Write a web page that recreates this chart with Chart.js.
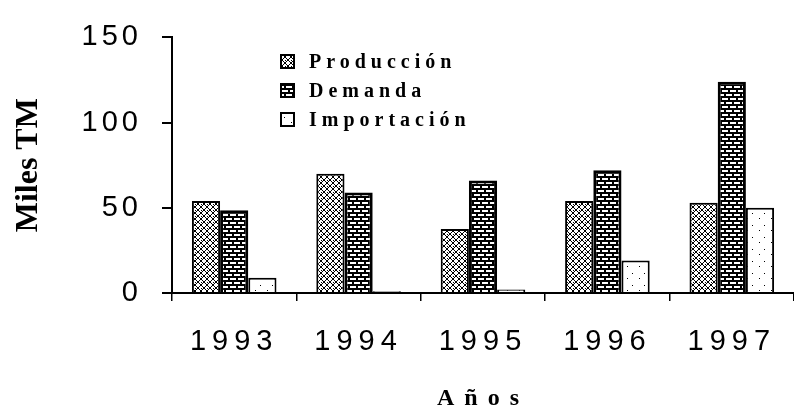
<!DOCTYPE html>
<html>
<head>
<meta charset="utf-8">
<script src="https://cdn.jsdelivr.net/npm/chart.js@4.4.0/dist/chart.umd.min.js"></script>
<style>
  html, body { margin: 0; padding: 0; background: #fff; }
  canvas { display: block; }
</style>
</head>
<body>
<canvas id="chart" width="794" height="411"></canvas>
<script>
const years = ["1993", "1994", "1995", "1996", "1997"];
const produccion = [54, 70, 37.5, 54, 53];
const demanda = [48.5, 59, 66, 72, 124];
const importacion = [9, 1, 2, 19, 50];
const yTicks = [0, 50, 100, 150];

// small black & white tiles, like the old printed hatchings
const makePattern = (w, h, draw) => {
  const c = document.createElement("canvas");
  c.width = w;
  c.height = h;
  const g = c.getContext("2d");
  g.fillStyle = "#fff";
  g.fillRect(0, 0, w, h);
  g.fillStyle = "#000";
  draw(g);
  return document.getElementById("chart").getContext("2d").createPattern(c, "repeat");
};

const crossPattern = makePattern(6, 6, (g) => {
  for (let i = 0; i < 6; i++) {
    g.fillRect(i, i, 1, 1);
    g.fillRect(5 - i, i, 1, 1);
  }
  g.fillRect(3, 0, 1, 1);
});

const brickPattern = makePattern(8, 8, (g) => {
  g.fillRect(0, 0, 8, 2);
  g.fillRect(0, 2, 2, 2);
  g.fillRect(0, 4, 8, 2);
  g.fillRect(4, 6, 2, 2);
});

const dotPattern = makePattern(12, 12, (g) => {
  g.fillRect(3, 2, 1, 1);
  g.fillRect(8, 9, 1, 1);
});

// canvas letterSpacing for the wide, spaced lettering of the scan
const spaced = (obj, name, sp) => {
  const orig = obj[name];
  obj[name] = function (...args) {
    const ctx = this.ctx;
    const prev = ctx.letterSpacing;
    ctx.letterSpacing = sp;
    orig.apply(this, args);
    ctx.letterSpacing = prev;
  };
};

const letterSpacing = {
  id: "letterSpacing",
  beforeDraw(chart) {
    const { x, y } = chart.scales;
    if (!x._spaced) {
      spaced(x, "drawLabels", "6px");
      spaced(x, "drawTitle", "10px");
      x._spaced = true;
    }
    if (!y._spaced) {
      spaced(y, "drawLabels", "4px");
      spaced(y, "drawTitle", "0px");
      y._spaced = true;
    }
  },
};

const boxLegend = {
  id: "boxLegend",
  afterDraw(chart) {
    const ctx = chart.ctx;
    ctx.save();
    ctx.font = "bold 20px 'Liberation Serif'";
    ctx.letterSpacing = "5px";
    ctx.textBaseline = "alphabetic";
    chart.data.datasets.forEach((ds, i) => {
      const base = 68 + i * 29;
      ctx.fillStyle = ds.backgroundColor;
      ctx.fillRect(281, base - 13, 13, 13);
      ctx.strokeStyle = "#000";
      ctx.lineWidth = 2;
      ctx.strokeRect(281, base - 13, 13, 13);
      ctx.fillStyle = "#000";
      ctx.fillText(ds.label, 309, base);
    });
    ctx.restore();
  },
};

new Chart(document.getElementById("chart"), {
  type: "bar",
  data: {
    labels: years,
    datasets: [
      { label: "Producción", data: produccion, backgroundColor: crossPattern, borderColor: "#000", borderWidth: 2 },
      { label: "Demanda", data: demanda, backgroundColor: brickPattern, borderColor: "#000", borderWidth: 3 },
      { label: "Importación", data: importacion, backgroundColor: dotPattern, borderColor: "#000", borderWidth: 2 },
    ],
  },
  options: {
    responsive: false,
    animation: false,
    layout: { padding: { top: 30, right: 0, left: 0, bottom: 0 } },
    datasets: {
      bar: { categoryPercentage: 0.68, barPercentage: 1.0 },
    },
    scales: {
      x: {
        afterFit: (scale) => { scale.height = 118; },
        grid: { offset: true, drawOnChartArea: false, tickLength: 8, color: "#000", lineWidth: 1.5 },
        border: { color: "#000", width: 2 },
        ticks: {
          padding: 24,
          color: "#000",
          font: { family: "'Liberation Sans'", size: 29 },
        },
        title: {
          display: true,
          text: "Años",
          color: "#000",
          font: { family: "'Liberation Serif'", size: 24, weight: "bold", lineHeight: 1 },
          padding: { top: 0, bottom: 0 },
        },
      },
      y: {
        min: 0,
        max: 150,
        afterFit: (scale) => { scale.width = 172; },
        afterBuildTicks: (scale) => { scale.ticks = yTicks.map((v) => ({ value: v })); },
        grid: { drawOnChartArea: false, tickLength: 10, color: "#000", lineWidth: 2 },
        border: { color: "#000", width: 2 },
        ticks: {
          padding: 20,
          color: "#000",
          font: { family: "'Liberation Sans'", size: 29 },
        },
        title: {
          display: true,
          text: "Miles TM",
          color: "#000",
          font: { family: "'Liberation Serif'", size: 32, weight: "bold" },
          padding: { top: 10, bottom: 0 },
        },
      },
    },
    plugins: {
      legend: { display: false },
      tooltip: { enabled: false },
    },
  },
  plugins: [letterSpacing, boxLegend],
});
</script>
</body>
</html>
